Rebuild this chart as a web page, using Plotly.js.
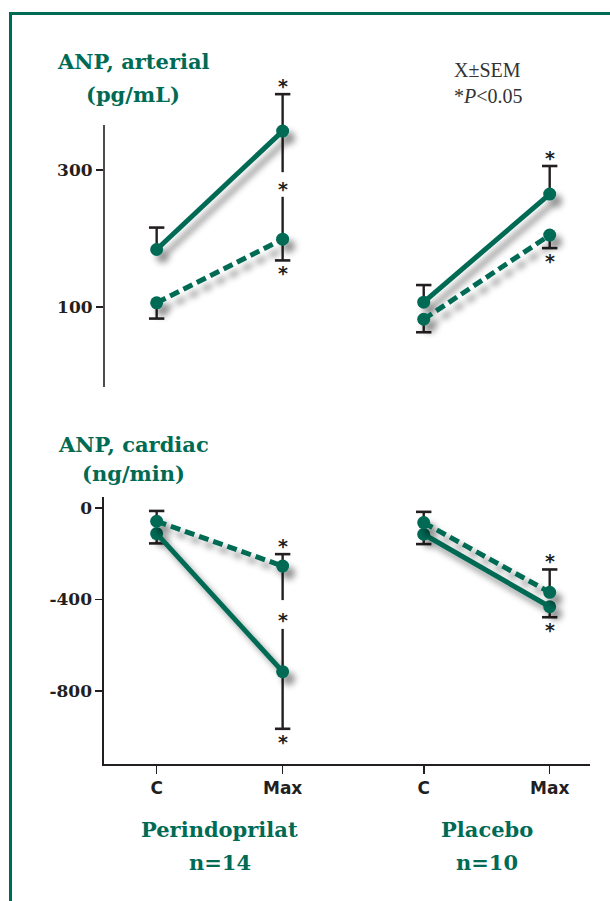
<!DOCTYPE html>
<html>
<head>
<meta charset="utf-8">
<script src="https://cdn.plot.ly/plotly-3.0.1.min.js"></script>
<style>
  html, body { margin: 0; padding: 0; background: #ffffff; }
  #wrap { position: relative; width: 610px; height: 901px; overflow: hidden; }
  #chart { position: absolute; left: 0; top: 0; width: 610px; height: 901px; }
  #frame { position: absolute; left: 9px; top: 12px; width: 640px; height: 920px;
           border-left: 3px solid #006b54; border-top: 3px solid #006b54; pointer-events: none; }
</style>
</head>
<body>
<div id="wrap">
  <div id="chart"></div>
  <div id="frame"></div>
</div>
<script>
// ---------------- data ----------------
const stages = ["C", "Max"];
const groups = ["Perindoprilat", "Placebo"];
const groupN = ["n=14", "n=10"];

// ANP, arterial (pg/mL) — means and SEM bar ends (null = not drawn)
const artPerSolid   = [184, 357];
const artPerSolidHi = [216, 411];
const artPerSolidLo = [null, 297];
const artPerDash    = [106, 199];
const artPerDashHi  = [null, 261];
const artPerDashLo  = [83, 168];
const artPlaSolid   = [107, 265];
const artPlaSolidHi = [132, 306];
const artPlaSolidLo = [null, null];
const artPlaDash    = [82, 205];
const artPlaDashHi  = [null, null];
const artPlaDashLo  = [63, 186];

// ANP, cardiac (ng/min)
const cardPerSolid   = [-112, -716];
const cardPerSolidHi = [null, -529];
const cardPerSolidLo = [-155, -966];
const cardPerDash    = [-58, -254];
const cardPerDashHi  = [-13, -202];
const cardPerDashLo  = [null, -403];
const cardPlaSolid   = [-115, -432];
const cardPlaSolidHi = [null, null];
const cardPlaSolidLo = [-158, -478];
const cardPlaDash    = [-64, -369];
const cardPlaDashHi  = [-17, -269];
const cardPlaDashLo  = [null, null];

// significance marks at "Max" (upper series, lower series, between series)
const sigUpper   = [true, true];
const sigLower   = [true, true];
const sigBetween = [true, false];

const artTicks  = [100, 300];
const artTickText = ["100", "300"];
const cardTicks = [0, -400, -800];
const cardTickText = ["0", "-400", "-800"];

// ---------------- styling ----------------
const GREEN = "#006b54";
const INK = "#231f20";
const GROUP_GAP = 2.12;      // x offset of the second group
const SERIF = "DejaVu Serif, serif";
const SANS = "DejaVu Sans, sans-serif";
const ART_AXIS_SPAN = [-17, 366];   // drawn extent of the upper y-axis line

function gx(g, s) { return g * GROUP_GAP + s; }

const traces = [];
const annotations = [];

function addGroup(yaxis, g, solid, solidHi, solidLo, dash, dashHi, dashLo) {
  const series = [
    {m: solid, hi: solidHi, lo: solidLo, dash: "solid", other: dash},
    {m: dash, hi: dashHi, lo: dashLo, dash: "10px,5px", other: solid}
  ];
  // error bars
  series.forEach(function (s) {
    const ex = [], ey = [], cx = [], cy = [];
    stages.forEach(function (_, i) {
      const x = gx(g, i);
      const upper = s.m[i] >= s.other[i];
      [["hi", s.hi[i]], ["lo", s.lo[i]]].forEach(function (p) {
        if (p[1] === null) return;
        ex.push(x, x, null); ey.push(s.m[i], p[1], null);
        const capped = (p[0] === "hi" && upper) || (p[0] === "lo" && !upper);
        if (capped) { cx.push(x); cy.push(p[1]); }
      });
    });
    traces.push({x: ex, y: ey, yaxis: yaxis, mode: "lines", hoverinfo: "skip",
      line: {color: INK, width: 2.4}, connectgaps: false});
    traces.push({x: cx, y: cy, yaxis: yaxis, mode: "markers", hoverinfo: "skip",
      marker: {symbol: "line-ew", size: 11, line: {color: INK, width: 2.6}}});
  });
  // main lines
  series.forEach(function (s) {
    traces.push({x: stages.map(function (_, i) { return gx(g, i); }), y: s.m, yaxis: yaxis,
      mode: "lines+markers", name: "main",
      line: {color: GREEN, width: 5, dash: s.dash},
      marker: {color: GREEN, size: 13}});
  });
  // asterisks at Max
  const i = 1, x = gx(g, i);
  const upS = series[0].m[i] >= series[1].m[i] ? series[0] : series[1];
  const loS = upS === series[0] ? series[1] : series[0];
  const yref = yaxis === "y2" ? "y2" : "y";
  const star = function (yv, shift) {
    annotations.push({x: x, y: yv, xref: "x", yref: yref, text: "*", showarrow: false,
      yshift: shift, font: {family: SANS, size: 19, color: INK, weight: "bold"}});
  };
  if (sigUpper[g]) star(upS.hi[i], 8);
  if (sigLower[g]) star(loS.lo[i], -13);
  if (sigBetween[g]) star((upS.lo[i] + loS.hi[i]) / 2, -5);
}

addGroup("y2", 0, artPerSolid, artPerSolidHi, artPerSolidLo, artPerDash, artPerDashHi, artPerDashLo);
addGroup("y2", 1, artPlaSolid, artPlaSolidHi, artPlaSolidLo, artPlaDash, artPlaDashHi, artPlaDashLo);
addGroup("y", 0, cardPerSolid, cardPerSolidHi, cardPerSolidLo, cardPerDash, cardPerDashHi, cardPerDashLo);
addGroup("y", 1, cardPlaSolid, cardPlaSolidHi, cardPlaSolidLo, cardPlaDash, cardPlaDashHi, cardPlaDashLo);

// ---------------- layout ----------------
const M = {l: 104, r: 20, t: 80, b: 137};
const PW = 610 - M.l - M.r, PH = 901 - M.t - M.b;
function px(xp) { return (xp - M.l) / PW; }
function py(yp) { return (901 - M.b - yp) / PH; }

function label(text, xp, yp, opts) {
  annotations.push(Object.assign({text: text, x: px(xp), y: py(yp), xref: "paper", yref: "paper",
    showarrow: false, xanchor: "center", yanchor: "middle",
    font: {family: SERIF, size: 21, color: GREEN, weight: "bold"}}, opts || {}));
}
label("ANP, arterial", 133, 62);
label("(pg/mL)", 133, 95);
label("ANP, cardiac", 133, 444);
label("(ng/min)", 133, 473);
label("X\u00B1SEM", 487, 70, {font: {family: "Liberation Serif, serif", size: 20, color: "#333333"}});
label("*<i>P</i>&lt;0.05", 488, 96, {font: {family: "Liberation Serif, serif", size: 20, color: "#333333"}});
groups.forEach(function (gname, g) {
  annotations.push({text: gname, x: gx(g, 0.5), y: py(829), xref: "x", yref: "paper", showarrow: false,
    yanchor: "middle", font: {family: SERIF, size: 21, color: GREEN, weight: "bold"}});
  annotations.push({text: groupN[g], x: gx(g, 0.5), y: py(862), xref: "x", yref: "paper", showarrow: false,
    yanchor: "middle", font: {family: SERIF, size: 21, color: GREEN, weight: "bold"}});
});

const yCommon = {linecolor: INK, linewidth: 1.6, ticks: "outside", ticklen: 7,
  tickwidth: 1.6, tickcolor: INK, showgrid: false, zeroline: false, fixedrange: true,
  tickfont: {family: SERIF, size: 17, color: INK, weight: "bold"}};

const layout = {
  width: 610, height: 901, margin: M, showlegend: false,
  paper_bgcolor: "rgba(0,0,0,0)", plot_bgcolor: "rgba(0,0,0,0)",
  xaxis: {range: [-0.418, 3.44], anchor: "y", showline: true, linecolor: INK, linewidth: 1.6,
    ticks: "outside", ticklen: 8, tickwidth: 1.6, tickcolor: INK, showgrid: false, zeroline: false,
    tickvals: [gx(0,0), gx(0,1), gx(1,0), gx(1,1)], ticktext: stages.concat(stages),
    tickfont: {family: SANS, size: 17, color: INK, weight: "bold"}},
  yaxis: Object.assign({}, yCommon, {showline: true, domain: [0, (764 - 497) / PH], range: [-1120, 48],
    tickvals: cardTicks, ticktext: cardTickText}),
  yaxis2: Object.assign({}, yCommon, {showline: false, domain: [(764 - 387) / PH, 1], range: [-17, 431.7],
    anchor: "x", tickvals: artTicks, ticktext: artTickText}),
  shapes: [{type: "line", xref: "paper", x0: 0, x1: 0, yref: "y2",
    y0: ART_AXIS_SPAN[0], y1: ART_AXIS_SPAN[1], line: {color: INK, width: 1.6}}],
  annotations: annotations
};

Plotly.newPlot("chart", traces, layout, {staticPlot: true}).then(function () {
  const svg = document.querySelector("#chart .main-svg");
  const NS = "http://www.w3.org/2000/svg";
  let defs = svg.querySelector("defs");
  if (!defs) { defs = document.createElementNS(NS, "defs"); svg.insertBefore(defs, svg.firstChild); }
  const f = document.createElementNS(NS, "filter");
  f.setAttribute("id", "lineShadow");
  f.setAttribute("x", "-20%"); f.setAttribute("y", "-20%");
  f.setAttribute("width", "150%"); f.setAttribute("height", "160%");
  f.innerHTML =
    '<feGaussianBlur in="SourceAlpha" stdDeviation="3.2" result="b"/>' +
    '<feOffset in="b" dx="6" dy="7" result="o"/>' +
    '<feFlood flood-color="#000000" flood-opacity="0.42" result="c"/>' +
    '<feComposite in="c" in2="o" operator="in" result="s"/>' +
    '<feMerge><feMergeNode in="s"/><feMergeNode in="SourceGraphic"/></feMerge>';
  defs.appendChild(f);
  document.querySelectorAll("#chart .scatterlayer .trace").forEach(function (t) {
    const ln = t.querySelector("path.js-line");
    if (ln && /0,\s*107,\s*84/.test(ln.style.stroke || "")) t.setAttribute("filter", "url(#lineShadow)");
  });
});
</script>
</body>
</html>
